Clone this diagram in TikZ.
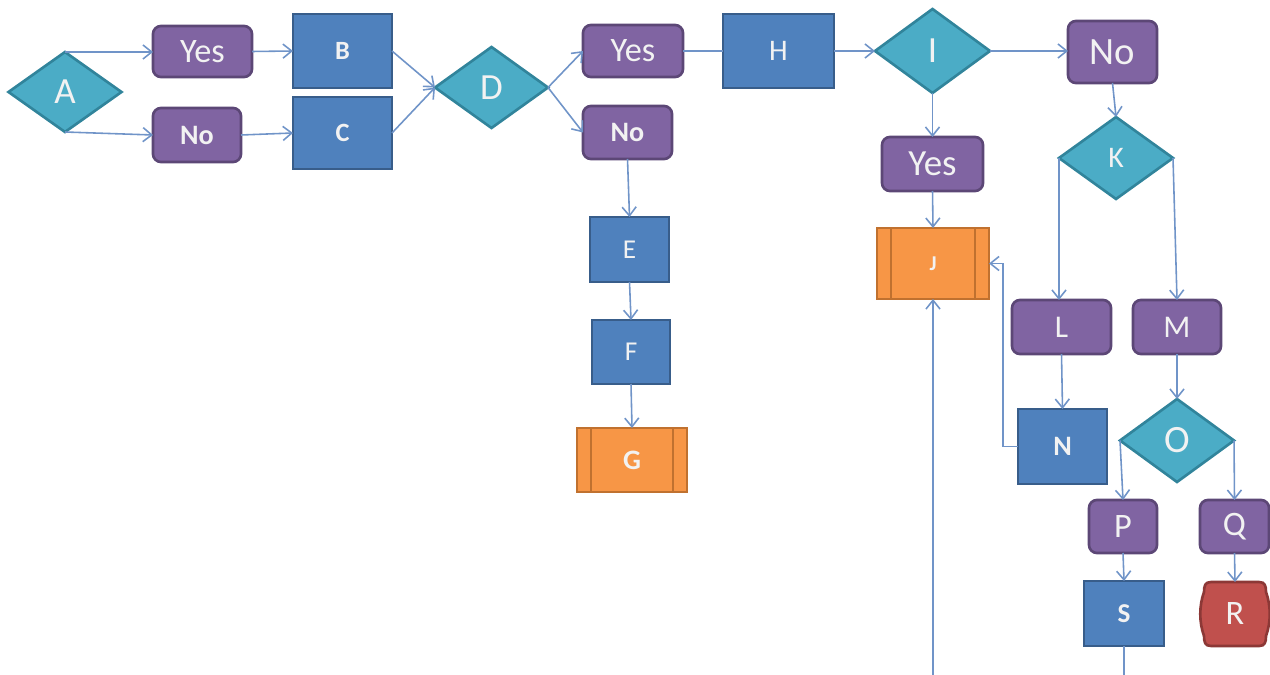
\documentclass[tikz,border=0pt]{standalone}
\usepackage{fontspec}
\setmainfont{Carlito}
\usetikzlibrary{shapes.geometric,arrows.meta,calc}
\definecolor{pfill}{HTML}{8064A2}
\definecolor{pdraw}{HTML}{5C4776}
\definecolor{bfill}{HTML}{4F81BD}
\definecolor{bdraw}{HTML}{385D8A}
\definecolor{tfill}{HTML}{4BACC6}
\definecolor{tdraw}{HTML}{31849B}
\definecolor{ofill}{HTML}{F79646}
\definecolor{odraw}{HTML}{C0712F}
\definecolor{rfill}{HTML}{C0504D}
\definecolor{rdraw}{HTML}{8C3836}
\definecolor{lnc}{HTML}{7094C8}
\tikzset{
  base/.style={draw, line width=1.5pt, text=white!95!black, inner sep=0pt, outer sep=0pt},
  sz/.style 2 args={minimum width={#1*0.02cm}, minimum height={#2*0.02cm}},
  ft/.style={font={\fontsize{#1}{#1}\selectfont}},
  ftb/.style={font={\fontsize{#1}{#1}\selectfont\bfseries}},
  decn/.style={base, diamond, fill=tfill, draw=tdraw},
  purp/.style={base, rectangle, rounded corners=4.5pt, fill=pfill, draw=pdraw},
  proc/.style={base, rectangle, fill=bfill, draw=bdraw},
  pred/.style={base, rectangle, fill=ofill, draw=odraw,
    path picture={\draw[draw=odraw, line width=1.5pt]
      ([xshift=14*0.02cm]path picture bounding box.north west) -- ([xshift=14*0.02cm]path picture bounding box.south west)
      ([xshift=-14*0.02cm]path picture bounding box.north east) -- ([xshift=-14*0.02cm]path picture bounding box.south east);}},
  conn/.style={draw=lnc, line width=0.9pt},
  arr/.style={conn, -{Straight Barb[length=5pt,width=8pt]}},
}
\begin{document}
\begin{tikzpicture}[x=0.02cm, y=-0.02cm]
\useasboundingbox (0,0) rectangle (1270,675);
% nodes
\node[decn, sz={113}{80}, ft=21] (A) at (65,92) {A};
\node[purp, sz={99}{51}, ft=19.5] (Y1) at (202.5,51.5) {Yes};
\node[purp, sz={88}{54}, ftb=16] (N1) at (197,135) {No};
\node[proc, sz={99}{74}, ftb=15] (B) at (342.5,51) {B};
\node[proc, sz={99}{72}, ftb=15] (C) at (342.5,133) {C};
\node[decn, sz={113}{81}, ft=21] (D) at (491.5,87.5) {D};
\node[purp, sz={100}{52}, ft=19.5] (Y2) at (633,51) {Yes};
\node[purp, sz={89}{53}, ftb=16] (N2) at (627.5,132.5) {No};
\node[proc, sz={111}{74}, ft=17] (H) at (778.5,51) {H};
\node[decn, sz={115}{84}, ft=21] (I) at (932.5,51) {I};
\node[purp, sz={89}{62}, ft=22] (N3) at (1112.5,52) {No};
\node[purp, sz={101}{54}, ft=21] (Y3) at (932.5,164) {Yes};
\node[decn, sz={114}{82}, ft=17] (K) at (1116,158) {K};
\node[pred, sz={112}{71}, ftb=12] (J) at (933,263.5) {J};
\node[purp, sz={99}{54}, ft=18] (L) at (1061.5,327) {L};
\node[purp, sz={88}{54}, ft=18] (M) at (1177,327) {M};
\node[proc, sz={89}{75}, ftb=16] (N) at (1062.5,446.5) {N};
\node[decn, sz={114}{83}, ft=22] (O) at (1177,440.5) {O};
\node[purp, sz={68}{53}, ft=19.5] (P) at (1123,526.5) {P};
\node[purp, sz={69}{53}, ft=19.5] (Q) at (1234.5,526.5) {Q};
\node[proc, sz={80}{65}, ftb=15.5] (S) at (1124,613.5) {S};
\node[base, draw=none, sz={62}{64}] (R) at (1235,614) {};
\node[proc, sz={79}{65}, ft=15.5] (E) at (629.5,249.5) {E};
\node[proc, sz={78}{64}, ft=15.5] (F) at (631,352) {F};
\node[pred, sz={110}{64}, ftb=16] (G) at (632,460) {G};
% R barrel shape
\path[base, fill=rfill, draw=rdraw]
  ($(R.center)+(-24,-32)$) -- ($(R.center)+(24,-32)$)
  .. controls ($(R.center)+(30,-32)$) and ($(R.center)+(31,-28)$) .. ($(R.center)+(31,-22)$)
  .. controls ($(R.center)+(36,-8)$) and ($(R.center)+(36,8)$) .. ($(R.center)+(31,22)$)
  .. controls ($(R.center)+(31,28)$) and ($(R.center)+(30,32)$) .. ($(R.center)+(24,32)$)
  -- ($(R.center)+(-24,32)$)
  .. controls ($(R.center)+(-30,32)$) and ($(R.center)+(-31,28)$) .. ($(R.center)+(-31,22)$)
  .. controls ($(R.center)+(-36,8)$) and ($(R.center)+(-36,-8)$) .. ($(R.center)+(-31,-22)$)
  .. controls ($(R.center)+(-31,-28)$) and ($(R.center)+(-30,-32)$) .. cycle;
\node[text=white!95!black, ft=19.5] at (R.center) {R};
\coordinate (bot) at (1124,682);
% connectors
\draw[arr] (A.north) -- (A.north -| Y1.west);
\draw[arr] (A.south) -- (N1.west);
\draw[arr] (Y1.east) -- (B.west);
\draw[arr] (N1.east) -- (C.west);
\draw[arr] (B.east) -- (D.west);
\draw[arr] (C.east) -- (D.west);
\draw[arr] (D.east) -- (Y2.west);
\draw[arr] (D.east) -- (N2.west);
\draw[conn] (Y2.east) -- (H.west);
\draw[arr] (H.east) -- (I.west);
\draw[arr] (I.east) -- (I.east -| N3.west);
\draw[arr] (I.south) -- (Y3.north);
\draw[arr] (Y3.south) -- (J.north);
\draw[arr] (N3.south) -- (K.north);
\draw[arr] (K.west) -- (K.west |- L.north);
\draw[arr] (K.east) -- (M.north);
\draw[arr] (L.south) -- (N.north);
\draw[arr] (N.west) -- ++(-15,0) |- (J.east);
\draw[arr] (M.south) -- (O.north);
\draw[arr] (O.west) -- (P.north);
\draw[arr] (O.east) -- (Q.north);
\draw[arr] (P.south) -- (S.north);
\draw[arr] (Q.south) -- ($(R.center)+(0,-32)$);
\draw[arr] (S.south) -- (bot) -- (bot -| J.south) -- (J.south);
\draw[arr] (N2.south) -- (E.north);
\draw[arr] (E.south) -- (F.north);
\draw[arr] (F.south) -- (G.north);
\end{tikzpicture}
\end{document}
